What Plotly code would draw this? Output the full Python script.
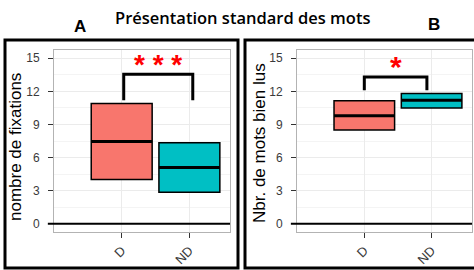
import plotly.graph_objects as go

# ---- data ----
categories = ["D", "ND"]
cat_pos = [1, 2]
colors = ["#F8766D", "#00BFC4"]

# Panel A : nombre de fixations
a_q1 = [4.0, 2.85]
a_median = [7.45, 5.1]
a_q3 = [10.9, 7.35]

# Panel B : Nbr. de mots bien lus
b_q1 = [8.5, 10.5]
b_median = [9.8, 11.2]
b_q3 = [11.15, 11.8]

# significance brackets
a_bracket_x = [1.03, 2.05]
a_bracket_low = 11.2
a_bracket_top = 13.55
a_stars = "* * *"
b_bracket_x = [1.0, 1.93]
b_bracket_low = 12.1
b_bracket_top = 13.3
b_stars = "*"

y_ticks = [0, 3, 6, 9, 12, 15]

title_text = "Présentation standard des mots"
a_ylabel = "nombre de fixations"
b_ylabel = "Nbr. de mots bien lus"

W, H = 474, 270
BOX_W = 0.9

fig = go.Figure()


def add_panel(xa, ya, q1, med, q3, bx, blow, btop, stars, star_y,
              star_size):
    for i, c in enumerate(categories):
        fig.add_trace(go.Box(
            x=[cat_pos[i]], q1=[q1[i]], median=[med[i]], q3=[q3[i]],
            lowerfence=[q1[i]], upperfence=[q3[i]],
            width=BOX_W, fillcolor=colors[i],
            line=dict(color="black", width=1.5), whiskerwidth=0,
            xaxis=xa, yaxis=ya, showlegend=False, hoverinfo="skip"))
        fig.add_trace(go.Scatter(
            x=[cat_pos[i] - BOX_W / 2, cat_pos[i] + BOX_W / 2],
            y=[med[i], med[i]], mode="lines",
            line=dict(color="black", width=3),
            xaxis=xa, yaxis=ya, showlegend=False, hoverinfo="skip"))
    fig.add_trace(go.Scatter(
        x=[bx[0], bx[0], bx[1], bx[1]],
        y=[blow, btop, btop, blow], mode="lines",
        line=dict(color="black", width=3),
        xaxis=xa, yaxis=ya, showlegend=False, hoverinfo="skip"))
    fig.add_annotation(
        x=(bx[0] + bx[1]) / 2, y=star_y, xref=xa, yref=ya,
        text=stars, showarrow=False, yanchor="middle", xanchor="center",
        font=dict(color="#FF0000", size=star_size, family="Liberation Sans",
                  weight="bold"))
    # zero reference line, slightly extending left of the panel
    fig.add_shape(type="line", xref=xa + " domain", yref=ya,
                  x0=-0.035, x1=1, y0=0, y1=0,
                  line=dict(color="black", width=2))


add_panel("x", "y", a_q1, a_median, a_q3, a_bracket_x,
          a_bracket_low, a_bracket_top, a_stars, 14.45, 28)
add_panel("x2", "y2", b_q1, b_median, b_q3, b_bracket_x,
          b_bracket_low, b_bracket_top, b_stars, 14.25, 30)

yb0 = (H - 232) / H
yb1 = (H - 50) / H

xcommon = dict(range=[0, 2.6], tickvals=cat_pos, ticktext=categories,
               tickangle=-45, ticks="outside", ticklen=5, tickwidth=1.2,
               tickcolor="#333333", showgrid=True, gridcolor="#ebebeb",
               gridwidth=1, showline=True, linecolor="#b3b3b3",
               linewidth=1, mirror=True, zeroline=False,
               tickfont=dict(family="Liberation Sans", size=13,
                             color="#3a3a3a"))
ycommon = dict(range=[-0.75, 15.75], tickvals=y_ticks, ticks="outside",
               ticklen=5, tickwidth=1.2, tickcolor="#333333",
               ticklabelstandoff=6,
               showgrid=True, gridcolor="#ebebeb", gridwidth=1,
               minor=dict(dtick=1.5, tick0=0, showgrid=True,
                          gridcolor="#f4f4f4", gridwidth=1),
               showline=True, linecolor="#b3b3b3", linewidth=1,
               mirror=True, zeroline=False,
               tickfont=dict(family="Liberation Sans", size=12,
                             color="#3a3a3a"))

fig.update_layout(
    width=W, height=H, margin=dict(l=0, r=0, t=0, b=0),
    paper_bgcolor="white", plot_bgcolor="white",
    xaxis=dict(domain=[54 / W, 230 / W], anchor="y", **xcommon),
    yaxis=dict(domain=[yb0, yb1], anchor="x", **ycommon),
    xaxis2=dict(domain=[297 / W, 472 / W], anchor="y2", **xcommon),
    yaxis2=dict(domain=[yb0, yb1], anchor="x2", **ycommon),
)

# frames around panels
fig.add_shape(type="rect", xref="paper", yref="paper",
              x0=5 / W, x1=238 / W, y0=(H - 268) / H, y1=(H - 40) / H,
              line=dict(color="black", width=3))
fig.add_shape(type="rect", xref="paper", yref="paper",
              x0=245 / W, x1=480 / W, y0=(H - 268) / H, y1=(H - 40) / H,
              line=dict(color="black", width=3))


def paper_text(x, y, text, size, weight="normal", family="Liberation Sans",
               angle=0):
    fig.add_annotation(x=x / W, y=(H - y) / H, xref="paper", yref="paper",
                       text=text, showarrow=False, textangle=angle,
                       xanchor="center", yanchor="middle",
                       font=dict(family=family, size=size, color="black",
                                 weight=weight))


paper_text(242, 17, title_text, 16.5, weight=600, family="Open Sans")
paper_text(80, 26, "A", 17, weight="bold")
paper_text(434, 25, "B", 17, weight="bold")
paper_text(15, 147, a_ylabel, 17, angle=-90)
paper_text(259, 143, b_ylabel, 17, angle=-90)

fig.write_html("out.html", config={"displayModeBar": False},
               post_script="document.body.style.margin='0';"
                           "document.body.style.overflow='hidden';")
